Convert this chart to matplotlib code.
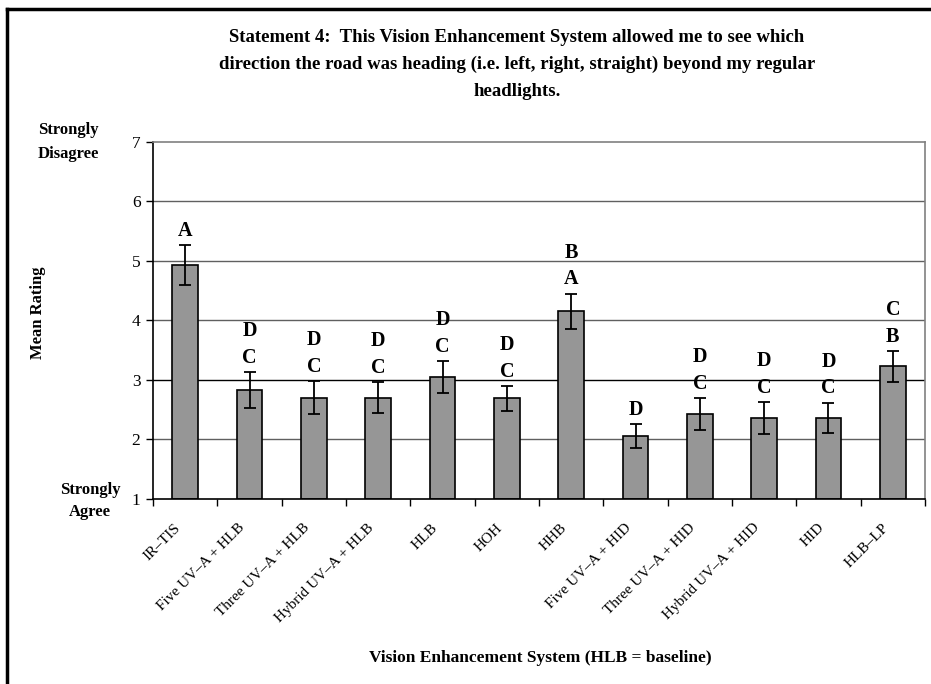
import numpy as np
import matplotlib
matplotlib.use("Agg")
import matplotlib.pyplot as plt
from matplotlib.lines import Line2D

# values
systems = ["IR\u2013TIS", "Five UV\u2013A + HLB", "Three UV\u2013A + HLB", "Hybrid UV\u2013A + HLB",
           "HLB", "HOH", "HHB", "Five UV\u2013A + HID", "Three UV\u2013A + HID",
           "Hybrid UV\u2013A + HID", "HID", "HLB\u2013LP"]
mean_rating = [4.93, 2.83, 2.70, 2.70, 3.05, 2.69, 4.15, 2.06, 2.43, 2.36, 2.36, 3.23]
std_error = [0.33, 0.30, 0.28, 0.26, 0.27, 0.21, 0.30, 0.20, 0.27, 0.27, 0.26, 0.26]
groups = ["A", "D\nC", "D\nC", "D\nC", "D\nC", "D\nC", "B\nA", "D", "D\nC", "D\nC", "D\nC", "C\nB"]
y_ticks = [1, 2, 3, 4, 5, 6, 7]

plt.rcParams['font.family'] = ['Liberation Serif', 'DejaVu Serif']

fig = plt.figure(figsize=(9.31, 6.84), dpi=100)
ax = fig.add_axes([153 / 931, 1 - 499 / 684, 772 / 931, 357.3 / 684])

x = np.arange(len(systems))

# horizontal grid lines
for v in y_ticks[1:-1]:
    ax.axhline(v, color='black' if v == 3 else '#606060', lw=1.0, zorder=0)

ax.bar(x, np.array(mean_rating) - 1, bottom=1, width=0.4, color='#969696',
       edgecolor='black', linewidth=1.2, zorder=2)
ax.errorbar(x, mean_rating, yerr=std_error, fmt='none', ecolor='black',
            elinewidth=1.3, capsize=4, capthick=1.3, zorder=3)

# group letters above the error bars
for xi, m, e, g in zip(x, mean_rating, std_error, groups):
    ax.annotate(g, xy=(xi, m + e), xytext=(0, 3), textcoords='offset points',
                ha='center', va='bottom', fontsize=14.5, fontweight='bold',
                linespacing=1.45)

ax.set_xlim(-0.5, len(systems) - 0.5)
ax.set_ylim(1, 7)
ax.set_yticks(y_ticks)
ax.set_yticklabels([str(t) for t in y_ticks], fontsize=12.5)
ax.set_xticks(np.arange(len(systems) + 1) - 0.5)
ax.set_xticklabels([])
ax.tick_params(axis='both', direction='out', length=5, width=1, color='black')
ax.tick_params(axis='y', pad=4)

for xi, name in zip(x, systems):
    ax.text(xi - 0.1, -0.075, name, transform=ax.get_xaxis_transform(),
            rotation=45, ha='right', va='center', rotation_mode='anchor', fontsize=11)

ax.spines['left'].set_color('black')
ax.spines['bottom'].set_color('black')
ax.spines['top'].set_color('#808080')
ax.spines['right'].set_color('#808080')
for s in ax.spines.values():
    s.set_linewidth(1.2)

fig.text(517 / 931, 1 - 29 / 684,
         "Statement 4:  This Vision Enhancement System allowed me to see which\n"
         "direction the road was heading (i.e. left, right, straight) beyond my regular\n"
         "headlights.",
         ha='center', va='top', fontsize=13.5, fontweight='bold', linespacing=1.75)

fig.text(68 / 931, 1 - 142 / 684, "Strongly\nDisagree", ha='center', va='center',
         fontsize=12, fontweight='bold', linespacing=1.7)
fig.text(90 / 931, 1 - 501 / 684, "Strongly\nAgree", ha='center', va='center',
         fontsize=12, fontweight='bold', linespacing=1.55)
fig.text(38 / 931, 1 - 313 / 684, "Mean Rating", ha='center', va='center',
         rotation=90, fontsize=12, fontweight='bold')
fig.text(540 / 931, 1 - 658 / 684, "Vision Enhancement System (HLB = baseline)",
         ha='center', va='center', fontsize=12.5, fontweight='bold')

# outer frame (left and top edges visible)
fig.add_artist(Line2D([7 / 931, 7 / 931], [0, 1 - 9 / 684], color='black', lw=2.5,
                      transform=fig.transFigure))
fig.add_artist(Line2D([7 / 931, 1], [1 - 9 / 684, 1 - 9 / 684], color='black', lw=2.5,
                      transform=fig.transFigure))

fig.savefig("out.png", dpi=100)
